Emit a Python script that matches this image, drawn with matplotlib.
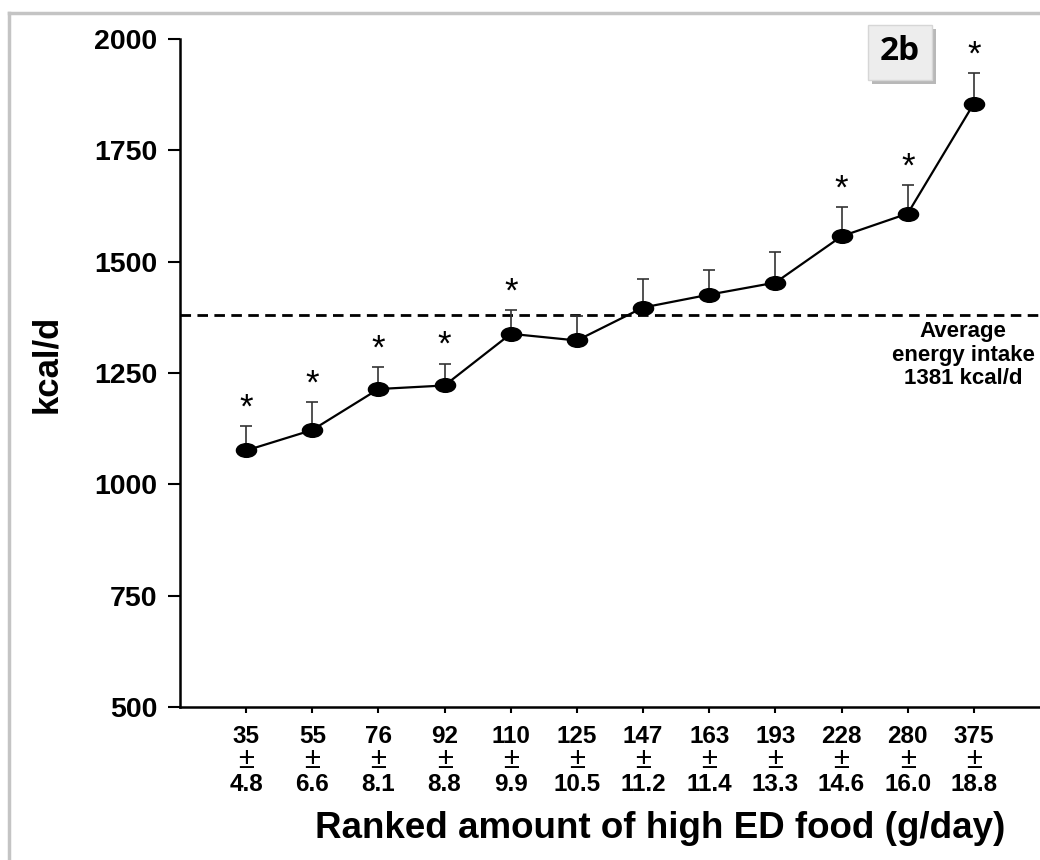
import numpy as np
import matplotlib
matplotlib.use("Agg")
import matplotlib.pyplot as plt
from matplotlib.path import Path
from matplotlib.lines import Line2D
from matplotlib.patches import Rectangle

# 排名组别：高能量密度食物摄入量 (g/day) 均值 ± SEM
amount_mean = ["35", "55", "76", "92", "110", "125", "147", "163", "193", "228", "280", "375"]
amount_sem = ["4.8", "6.6", "8.1", "8.8", "9.9", "10.5", "11.2", "11.4", "13.3", "14.6", "16.0", "18.8"]

# 能量摄入 kcal/d 及其误差
kcal = [1076, 1122, 1214, 1222, 1338, 1323, 1397, 1426, 1453, 1557, 1608, 1855]
kcal_err = [55, 63, 50, 49, 54, 55, 65, 56, 69, 66, 64, 68]
signif = [1, 1, 1, 1, 1, 0, 0, 0, 0, 1, 1, 1]

avg_intake = 1381

W, H = 1040, 860
fig = plt.figure(figsize=(W / 100, H / 100), dpi=100)
ax = fig.add_axes([180 / W, 1 - 707 / H, 860 / W, (707 - 39) / H])

x = np.arange(1, len(kcal) + 1)

# 椭圆形点
circ = Path.unit_circle()
ell = Path(circ.vertices * [1.0, 0.68], circ.codes)

ax.errorbar(x, kcal, yerr=[np.zeros(len(kcal)), kcal_err], fmt='none',
            ecolor='#333333', elinewidth=1.2, capsize=4.5, capthick=1.2, zorder=2)
ax.plot(x, kcal, color='black', lw=1.6, marker=ell, markersize=14.5,
        markerfacecolor='black', markeredgecolor='black', zorder=3)

# 平均线
ax.axhline(avg_intake, color='black', lw=2, ls=(0, (3.8, 2.3)), zorder=1)
fig.text(963 / W, 1 - 355 / H, "Average\nenergy intake\n%d kcal/d" % avg_intake,
         ha='center', va='center', fontsize=16, fontweight='bold',
         family='Liberation Sans', linespacing=1.15)

# 显著性星号
for xi, yi, ei, s in zip(x, kcal, kcal_err, signif):
    if s:
        ax.annotate("*", (xi, yi + ei), xytext=(0, 13), textcoords='offset points',
                    ha='center', va='center', fontsize=25, family='Liberation Sans')

ax.set_xlim(0, 13)
ax.set_ylim(500, 2000)
ax.set_yticks(np.arange(500, 2001, 250))
ax.set_xticks(x)
ax.set_xticklabels([])

# x 轴标签分三行：均值 / ± / SEM
xt = ax.get_xaxis_transform()
for xi, m, s in zip(x, amount_mean, amount_sem):
    ax.text(xi, -0.0435, m, transform=xt, ha='center', va='center', fontsize=17.5,
            fontweight='bold', family='Liberation Sans')
    ax.text(xi, -0.080, "±", transform=xt, ha='center', va='center', fontsize=21,
            family='Liberation Sans')
    ax.text(xi, -0.1165, s, transform=xt, ha='center', va='center', fontsize=17.5,
            fontweight='bold', family='Liberation Sans')

for lab in ax.get_yticklabels():
    lab.set_family('Liberation Sans')
    lab.set_fontweight('bold')
    lab.set_fontsize(20.5)

ax.tick_params(axis='y', direction='out', length=8.5, width=1.5, pad=8)
ax.tick_params(axis='x', direction='out', length=4, width=1.5, pad=8)
for side in ['top', 'right']:
    ax.spines[side].set_visible(False)
for side in ['left', 'bottom']:
    ax.spines[side].set_linewidth(1.8)

ax.set_ylabel("kcal/d", fontsize=25, fontweight='bold', family='Liberation Sans')
ax.yaxis.set_label_coords(-0.136, 0.513)

fig.text(660 / W, 1 - 829 / H, "Ranked amount of high ED food (g/day)",
         ha='center', va='center', fontsize=26.5, fontweight='bold',
         family='Liberation Sans')

# 图框 (左、上)
grey = '#c4c4c4'
fig.add_artist(Line2D([9 / W, 9 / W], [0, 1 - 13 / H], color=grey, lw=2.5, transform=fig.transFigure))
fig.add_artist(Line2D([9 / W, 1], [1 - 13 / H, 1 - 13 / H], color=grey, lw=2.5, transform=fig.transFigure))

# "2b" 标签框
fig.add_artist(Rectangle((872 / W, 1 - 84 / H), 64 / W, 55 / H, transform=fig.transFigure,
                         facecolor='#b8b8b8', edgecolor='none', zorder=5))
fig.add_artist(Rectangle((868 / W, 1 - 80 / H), 64 / W, 55 / H, transform=fig.transFigure,
                         facecolor='#ededed', edgecolor='#d6d6d6', lw=1, zorder=6))
fig.text(900 / W, 1 - 51 / H, "2b", ha='center', va='center', fontsize=24,
         fontweight='bold', family='Open Sans', zorder=7)

fig.savefig("out.png", dpi=100)
